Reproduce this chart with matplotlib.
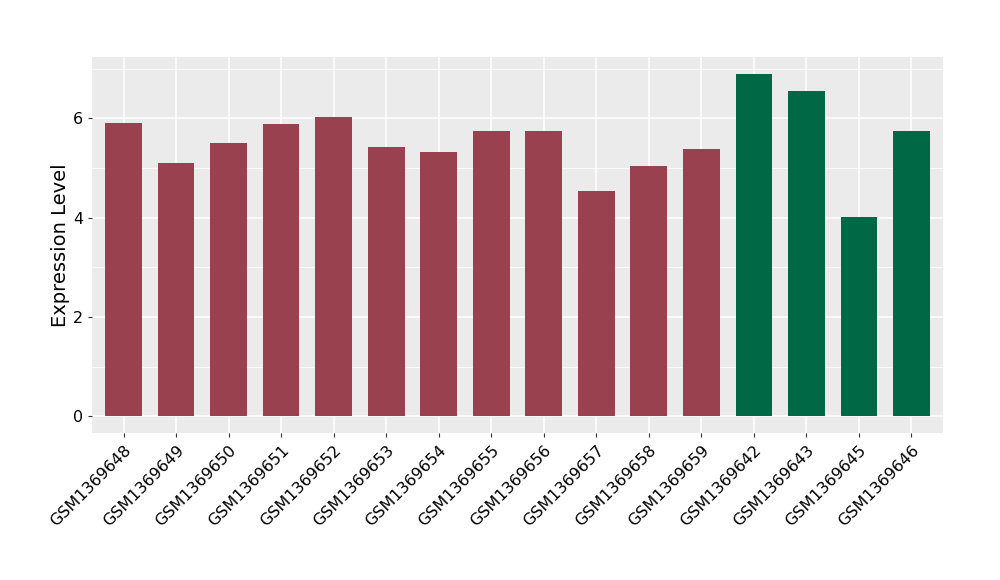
import matplotlib
matplotlib.use("Agg")
import matplotlib.pyplot as plt

samples = ["GSM1369648", "GSM1369649", "GSM1369650", "GSM1369651", "GSM1369652",
           "GSM1369653", "GSM1369654", "GSM1369655", "GSM1369656", "GSM1369657",
           "GSM1369658", "GSM1369659", "GSM1369642", "GSM1369643", "GSM1369645",
           "GSM1369646"]
values = [5.90, 5.11, 5.50, 5.88, 6.02, 5.42, 5.32, 5.74, 5.74, 4.53,
          5.05, 5.38, 6.89, 6.55, 4.01, 5.74]
groups = ["a"] * 12 + ["b"] * 4
group_colors = {"a": "#9A4150", "b": "#006845"}
yticks = [0, 2, 4, 6]

fig = plt.figure(figsize=(10, 5.8), dpi=100)
ax = fig.add_axes([0.092, 0.253, 0.851, 0.649])
ax.set_facecolor("#EBEBEB")
x = list(range(len(samples)))
ax.bar(x, values, width=0.7, color=[group_colors[g] for g in groups], zorder=3)
ax.set_xlim(-0.6, len(samples) - 0.4)
ax.set_ylim(-0.345, 7.24)
ax.set_yticks(yticks)
ax.set_yticks([1, 3, 5, 7], minor=True)
ax.set_xticks(x)
ax.set_xticklabels(samples, rotation=45, ha="right", rotation_mode="anchor", fontsize=11.5)
ax.tick_params(axis="y", labelsize=11.5, length=3, color="#333333")
ax.tick_params(axis="x", length=3, color="#333333")
ax.tick_params(axis="y", which="minor", length=0)
ax.grid(True, which="major", color="white", linewidth=1.1, zorder=0)
ax.grid(True, which="minor", axis="y", color="white", linewidth=0.6, zorder=0)
for s in ax.spines.values():
    s.set_visible(False)
ax.set_ylabel("Expression Level", fontsize=14, labelpad=2)
fig.savefig("out.png", dpi=100)
